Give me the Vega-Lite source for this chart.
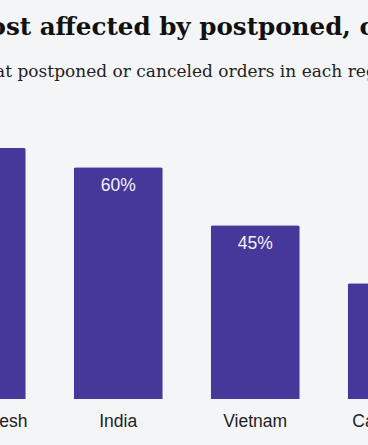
{
  "$schema": "https://vega.github.io/schema/vega-lite/v6.json",
  "autosize": {"type": "none"},
  "width": 368,
  "height": 309,
  "padding": {"top": 90, "left": 0, "right": 0, "bottom": 46},
  "background": "#f4f5f6",
  "title": {
    "text": "Countries most affected by postponed, canceled orders",
    "subtitle": "Percent of buyers that postponed or canceled orders in each region",
    "anchor": "start",
    "frame": "group",
    "dx": -180,
    "offset": 9,
    "font": "DejaVu Serif",
    "fontSize": 24.6,
    "fontWeight": "bold",
    "color": "#111111",
    "subtitleFont": "DejaVu Serif",
    "subtitleFontSize": 17,
    "subtitleColor": "#222222",
    "subtitlePadding": 23
  },
  "data": {
    "values": [
      {"country": "Bangladesh", "share": 0.65},
      {"country": "India", "share": 0.60},
      {"country": "Vietnam", "share": 0.45},
      {"country": "Cambodia", "share": 0.30}
    ]
  },
  "encoding": {
    "x": {
      "field": "country",
      "type": "nominal",
      "sort": null,
      "scale": {"range": [-87.3, 460.7], "paddingInner": 0.35, "paddingOuter": 0.175},
      "axis": {
        "title": null,
        "labelAngle": 0,
        "ticks": false,
        "domain": false,
        "labelFont": "Liberation Sans",
        "labelFontSize": 17.5,
        "labelColor": "#222222",
        "labelPadding": 13
      }
    },
    "y": {
      "field": "share",
      "type": "quantitative",
      "scale": {"domain": [0, 0.8]},
      "axis": null
    }
  },
  "layer": [
    {
      "mark": {"type": "bar", "color": "#46389a", "cornerRadiusTopLeft": 2, "cornerRadiusTopRight": 2}
    },
    {
      "mark": {"type": "text", "color": "#f2f2f7", "baseline": "middle", "dy": 19, "font": "Liberation Sans", "fontSize": 17.5},
      "encoding": {"text": {"field": "share", "type": "quantitative", "format": ".0%"}}
    }
  ],
  "config": {"view": {"stroke": null}}
}
